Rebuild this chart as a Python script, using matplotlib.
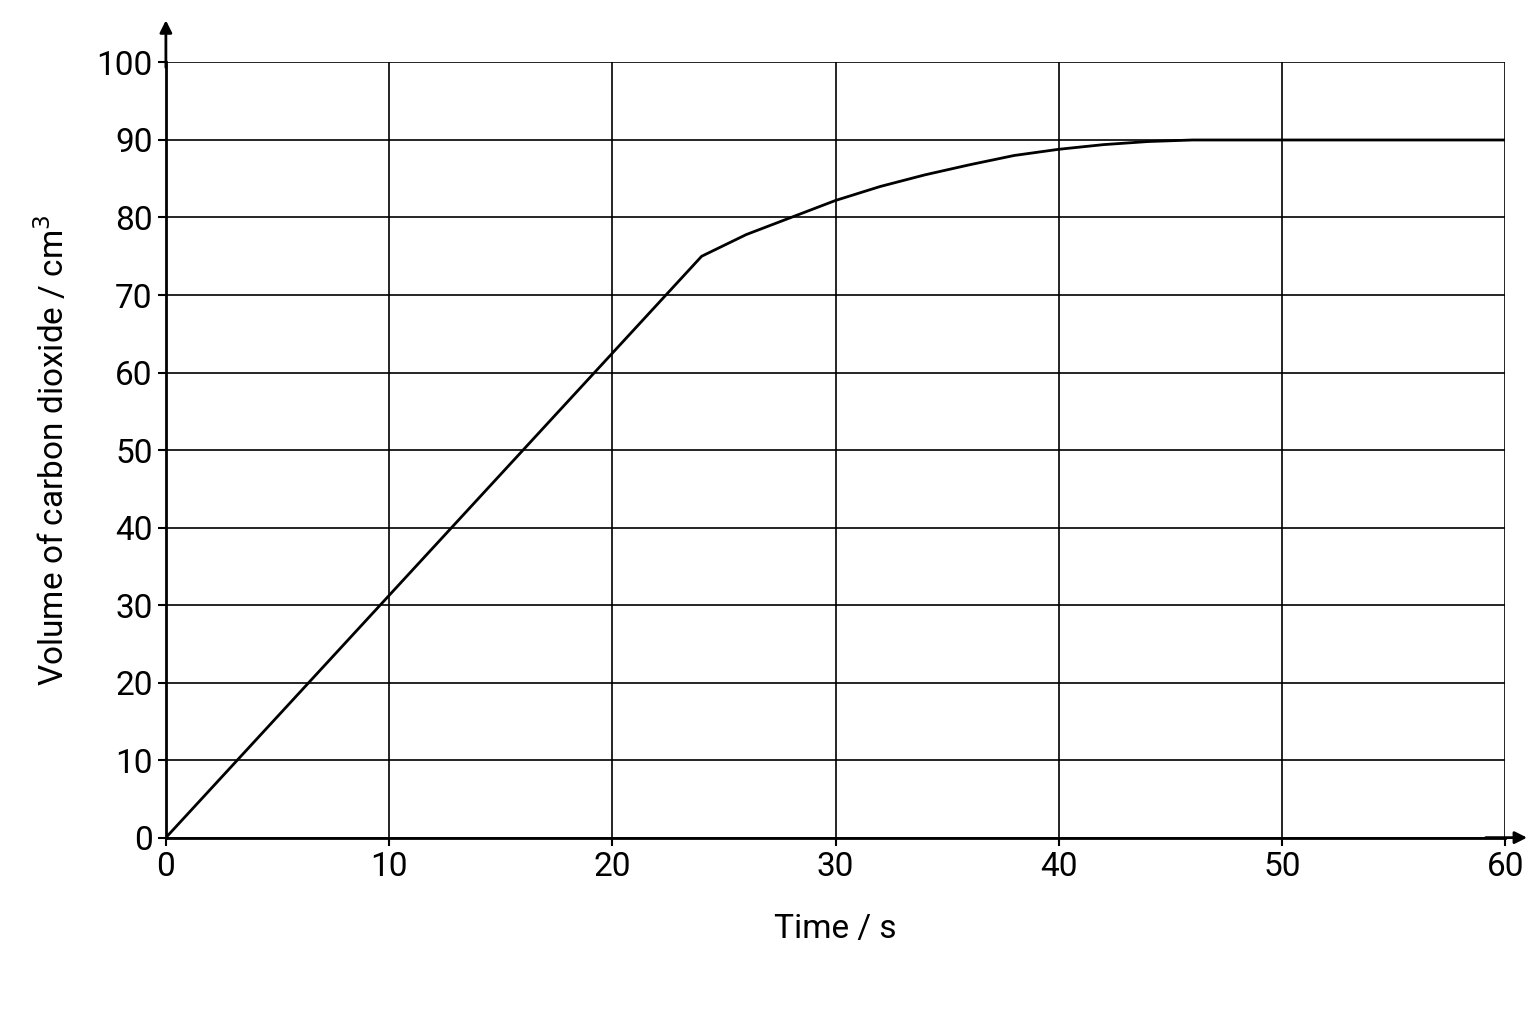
import matplotlib
matplotlib.use("Agg")
import matplotlib.pyplot as plt

plt.rcParams['font.family'] = ['Roboto', 'DejaVu Sans']

time_s = [0, 24, 26, 28, 30, 32, 34, 36, 38, 40, 42, 44, 46, 60]
volume = [0, 75, 77.8, 80, 82.2, 84, 85.5, 86.8, 88, 88.8, 89.4, 89.8, 90, 90]
x_ticks = [0, 10, 20, 30, 40, 50, 60]
y_ticks = [0, 10, 20, 30, 40, 50, 60, 70, 80, 90, 100]

fig = plt.figure(figsize=(15.36, 10.24), dpi=100)
ax = fig.add_axes([0.108, 0.182, 0.872, 0.757])
ax.plot(time_s, volume, color='black', lw=2)
ax.set_xlim(0, 60)
ax.set_ylim(0, 100)
ax.set_xticks(x_ticks)
ax.set_yticks(y_ticks)
ax.grid(True, color='black', lw=1.2)
for s in ['top', 'right']:
    ax.spines[s].set_visible(False)
for s in ['left', 'bottom']:
    ax.spines[s].set_linewidth(2)
ax.tick_params(labelsize=24, length=6, width=1.5)
ax.set_xlabel('Time / s', fontsize=24, labelpad=22)
ax.set_ylabel('Volume of carbon dioxide / cm$^3$', fontsize=24, labelpad=18)
ax.annotate('', xy=(0, 105.8), xytext=(0, 99), xycoords='data',
            arrowprops=dict(arrowstyle='-|>', color='black', lw=2, mutation_scale=18),
            annotation_clip=False)
ax.annotate('', xy=(61.1, 0), xytext=(59, 0), xycoords='data',
            arrowprops=dict(arrowstyle='-|>', color='black', lw=2, mutation_scale=18),
            annotation_clip=False)
fig.savefig('out.png', dpi=100)
